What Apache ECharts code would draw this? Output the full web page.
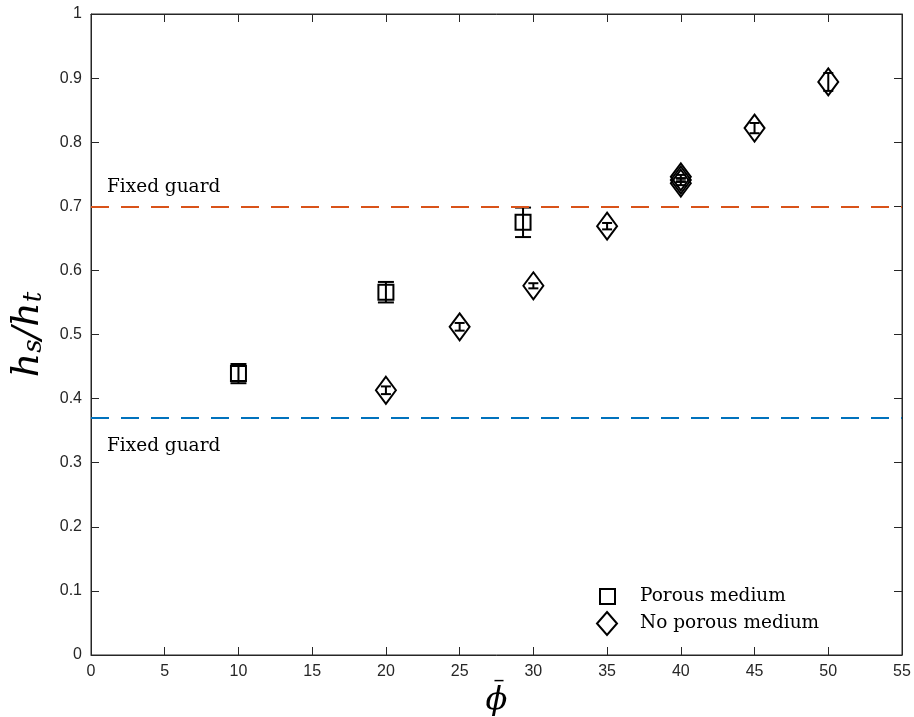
<!DOCTYPE html>
<html>
<head>
<meta charset="utf-8">
<script src="https://cdn.jsdelivr.net/npm/echarts@6/dist/echarts.min.js"></script>
<style>html,body{margin:0;padding:0;background:#fff;}#c{width:914px;height:717px;}</style>
</head>
<body>
<div id="c"></div>
<script>
// ---- data ----
const xTicks = [0, 5, 10, 15, 20, 25, 30, 35, 40, 45, 50, 55];
const yTicks = [0, 0.1, 0.2, 0.3, 0.4, 0.5, 0.6, 0.7, 0.8, 0.9, 1];
const porousX = [10, 20, 29.3];
const porousY = [0.439, 0.566, 0.675];
const porousErr = [0.015, 0.016, 0.023];
const noPorousX = [20, 25, 30, 35, 40, 40, 40, 45, 50];
const noPorousY = [0.413, 0.512, 0.576, 0.669, 0.736, 0.741, 0.746, 0.822, 0.894];
const noPorousErr = [0.006, 0.006, 0.004, 0.005, 0.003, 0.003, 0.003, 0.008, 0.014];
const guardUpper = 0.705;
const guardLower = 0.371;
const guardLabel = 'Fixed guard';
const seriesNames = ['Porous medium', 'No porous medium'];

const axisColor = '#262626';
const tickFont = 'Liberation Sans, Arial, sans-serif';
const serifFont = 'DejaVu Serif, Liberation Serif, serif';

function pts(xs, ys) { return xs.map((x, i) => [x, ys[i]]); }
function errPts(xs, ys, es) { return xs.map((x, i) => [x, ys[i], es[i]]); }

function errRender(cap) {
  return function (params, api) {
    const x = api.value(0), y = api.value(1), e = api.value(2);
    const t = api.coord([x, y + e]);
    const b = api.coord([x, y - e]);
    const st = { stroke: '#000', lineWidth: 2 };
    return {
      type: 'group',
      children: [
        { type: 'line', shape: { x1: t[0], y1: t[1], x2: b[0], y2: b[1] }, style: st },
        { type: 'line', shape: { x1: t[0] - cap, y1: t[1], x2: t[0] + cap, y2: t[1] }, style: st },
        { type: 'line', shape: { x1: b[0] - cap, y1: b[1], x2: b[0] + cap, y2: b[1] }, style: st }
      ]
    };
  };
}

function xAxisBase() {
  return {
    type: 'value', min: xTicks[0], max: xTicks[xTicks.length - 1], interval: 5,
    axisLine: { show: true, onZero: false, lineStyle: { color: axisColor, width: 1 } },
    axisTick: { show: true, inside: true, length: 8, lineStyle: { color: axisColor } },
    splitLine: { show: false }
  };
}
function yAxisBase() {
  return {
    type: 'value', min: yTicks[0], max: yTicks[yTicks.length - 1], interval: 0.1,
    axisLine: { show: true, onZero: false, lineStyle: { color: axisColor, width: 1 } },
    axisTick: { show: true, inside: true, length: 8, lineStyle: { color: axisColor } },
    splitLine: { show: false }
  };
}

const chart = echarts.init(document.getElementById('c'));
chart.setOption({
  animation: false,
  backgroundColor: '#fff',
  grid: { left: 91, right: 12, top: 14, bottom: 62, outerBoundsMode: 'none', containLabel: false,
          show: true, borderColor: axisColor, borderWidth: 1, backgroundColor: 'rgba(0,0,0,0)' },
  xAxis: [
    Object.assign(xAxisBase(), {
      position: 'bottom',
      axisLabel: { color: axisColor, fontFamily: tickFont, fontSize: 16, margin: 9 },
      name: '{b|\u2013}\n{p|ϕ}', nameLocation: 'middle', nameGap: 21, nameMoveOverlap: false,
      nameTextStyle: {
        verticalAlign: 'top',
        rich: {
          b: { fontFamily: serifFont, fontSize: 22, lineHeight: 10, color: '#000', padding: [0, 0, 0, 5] },
          p: { fontFamily: serifFont, fontStyle: 'italic', fontSize: 32, lineHeight: 30, color: '#000' }
        }
      }
    }),
    Object.assign(xAxisBase(), { position: 'top', axisLabel: { show: false } })
  ],
  yAxis: [
    Object.assign(yAxisBase(), {
      position: 'left',
      axisLabel: { color: axisColor, fontFamily: tickFont, fontSize: 16, margin: 9 },
      name: '{h|h}{s|s}{h|/h}{s|t}', nameLocation: 'middle', nameGap: 44, nameMoveOverlap: false,
      nameTextStyle: {
        rich: {
          h: { fontFamily: serifFont, fontStyle: 'italic', fontSize: 38, color: '#000', lineHeight: 44, verticalAlign: 'bottom' },
          s: { fontFamily: serifFont, fontStyle: 'italic', fontSize: 26, color: '#000', lineHeight: 26, verticalAlign: 'bottom' }
        }
      }
    }),
    Object.assign(yAxisBase(), { position: 'right', axisLabel: { show: false } })
  ],
  legend: [
    {
      data: [seriesNames[0]], orient: 'vertical', left: 599, top: 587, padding: 0,
      icon: 'rect', itemWidth: 15, itemHeight: 15,
      itemStyle: { color: 'rgba(0,0,0,0)', borderColor: '#000', borderWidth: 2, opacity: 1 },
      textStyle: { fontFamily: serifFont, fontSize: 18.5, color: '#000', padding: [0, 0, 0, 20] },
      selectedMode: false
    },
    {
      data: [seriesNames[1]], orient: 'vertical', left: 596, top: 611, padding: 0,
      icon: 'diamond', itemWidth: 20, itemHeight: 23,
      itemStyle: { color: 'rgba(0,0,0,0)', borderColor: '#000', borderWidth: 2, opacity: 1 },
      textStyle: { fontFamily: serifFont, fontSize: 18.5, color: '#000', padding: [0, 0, 0, 18] },
      selectedMode: false
    }
  ],
  series: [
    {
      name: 'guards', type: 'line', data: [], silent: true,
      markLine: {
        silent: true, symbol: 'none', animation: false,
        data: [
          { yAxis: guardUpper, lineStyle: { color: '#D95319', type: [18, 12], width: 2, opacity: 1 },
            label: { show: true, formatter: guardLabel, position: 'insideStartTop', distance: [16, 10], fontFamily: serifFont, fontSize: 18.5, color: '#000' } },
          { yAxis: guardLower, lineStyle: { color: '#0072BD', type: [18, 12], width: 2, opacity: 1 },
            label: { show: true, formatter: guardLabel, position: 'insideStartBottom', distance: [16, 19], fontFamily: serifFont, fontSize: 18.5, color: '#000' } }
        ]
      }
    },
    { name: 'topright', type: 'scatter', data: [], xAxisIndex: 1, yAxisIndex: 1, silent: true },
    {
      name: seriesNames[0], type: 'scatter', data: pts(porousX, porousY),
      symbol: 'rect', symbolSize: [15, 15], silent: true, z: 3,
      itemStyle: { color: 'rgba(0,0,0,0)', borderColor: '#000', borderWidth: 2, opacity: 1 }
    },
    {
      name: seriesNames[1], type: 'scatter', data: pts(noPorousX, noPorousY),
      symbol: 'diamond', symbolSize: [20, 27], silent: true, z: 3,
      itemStyle: { color: 'rgba(0,0,0,0)', borderColor: '#000', borderWidth: 2, opacity: 1 }
    },
    {
      name: 'errP', type: 'custom', data: errPts(porousX, porousY, porousErr),
      renderItem: errRender(8), silent: true, z: 4
    },
    {
      name: 'errN', type: 'custom', data: errPts(noPorousX, noPorousY, noPorousErr),
      renderItem: errRender(5), silent: true, z: 4
    }
  ]
});
</script>
</body>
</html>
